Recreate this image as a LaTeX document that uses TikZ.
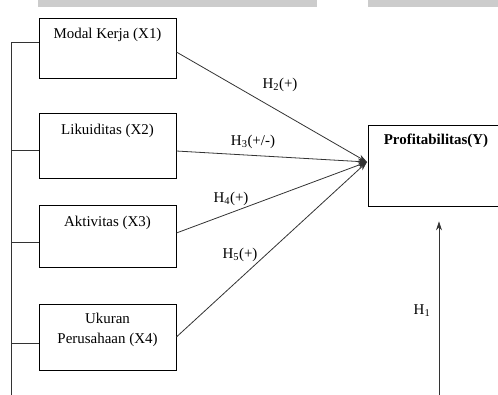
\documentclass[tikz,border=0pt]{standalone}
\usepackage{fontspec}
\setmainfont{Liberation Serif}
\usetikzlibrary{arrows.meta,calc}
\begin{document}
\begin{tikzpicture}[x=1bp,y=-1bp,
  every node/.style={font=\fontsize{15}{18}\selectfont},
  varbox/.style={draw, line width=0.8bp, rectangle, minimum width=137bp, inner sep=0pt},
  boxtext/.style={anchor=north, inner sep=0pt, align=center},
  link/.style={line width=0.8bp, draw=black!80},
  hyp/.style={inner sep=0pt},
  tip/.style={-{Stealth[length=9bp,width=6bp]}}
]
\useasboundingbox (0,0) rectangle (498,394);
\clip (0,0) rectangle (498,394);
% gray bars at top
\fill[gray!40] (38,0) rectangle (317,7);
\fill[gray!40] (368,0) rectangle (498,7);
% boxes
\node[varbox, minimum height=60bp] (b1) at (107.5,48) {};
\node[varbox, minimum height=65bp] (b2) at (107.5,145.5) {};
\node[varbox, minimum height=62bp] (b3) at (107.5,236) {};
\node[varbox, minimum height=66bp] (b4) at (107.5,337) {};
\node[varbox, minimum width=150bp, minimum height=81bp] (y) at (443,165.5) {};
% box texts
\node[boxtext] (t1) at (107.5,28) {Modal Kerja (X1)};
\node[boxtext] (t2) at (107.5,124) {Likuiditas (X2)};
\node[boxtext] (t3) at (107.5,216) {Aktivitas (X3)};
\node[boxtext] (t4) at (107.5,313) {Ukuran\\[2bp]Perusahaan (X4)};
\node[boxtext, font=\fontsize{15}{18}\selectfont\bfseries] (ty) at (436,134) {Profitabilitas(Y)};
% left bus
\coordinate (btop) at (11,42);
\coordinate (bbot) at (11,400);
\draw[link] (btop) -- (bbot);
\draw[link] (btop) -- (b1.west |- btop);
\draw[link] (11,150) -- (b2.west |- 0,150);
\draw[link] (11,242) -- (b3.west |- 0,242);
\draw[link] (11,343) -- (b4.west |- 0,343);
% converging arrows
\coordinate (c) at (367,162);
\draw[link, tip] ([yshift=-4bp]b1.east) -- (c);
\draw[link, tip] ([yshift=-5.5bp]b2.east) -- (c);
\draw[link, tip] ([yshift=3bp]b3.east) -- (c);
\draw[link, tip] (b4.east) -- (c);
% H1 arrow
\coordinate (h1s) at (439,400);
\draw[link, -{Stealth[length=9bp,width=6bp]}] (h1s) -- ([yshift=-15bp]y.south -| h1s);
% labels
\node[hyp] (l2) at (280,85) {H\textsubscript{2}(+)};
\node[hyp] (l3) at (253,142) {H\textsubscript{3}(+/-)};
\node[hyp] (l4) at (231,199) {H\textsubscript{4}(+)};
\node[hyp] (l5) at (240,255) {H\textsubscript{5}(+)};
\node[hyp] (l1) at (422,311) {H\textsubscript{1}};
\end{tikzpicture}
\end{document}
